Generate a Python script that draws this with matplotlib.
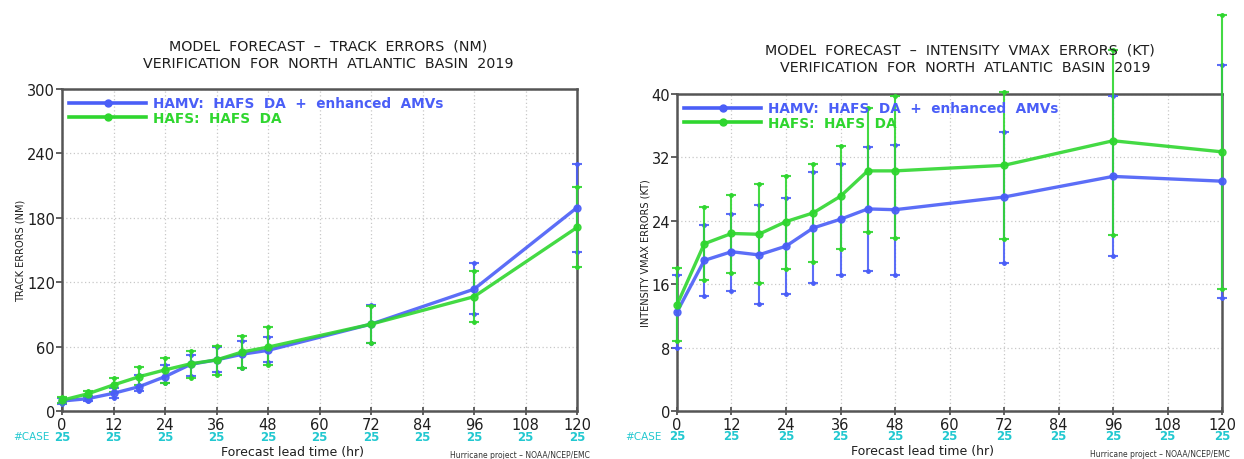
import matplotlib
matplotlib.use("Agg")
import matplotlib.pyplot as plt
from matplotlib.lines import Line2D

# Forecast lead times (hr) and number of verified cases
lead_hours = [0, 6, 12, 18, 24, 30, 36, 42, 48, 72, 96, 120]
case_ticks = [0, 12, 24, 36, 48, 60, 72, 84, 96, 108, 120]
case_counts = [25, 25, 25, 25, 25, 25, 25, 25, 25, 25, 25]

# Track errors (NM): mean, upper and lower bounds
track_hamv = [9.3, 11.5, 16.5, 22.7, 32.0, 43.5, 47.6, 52.9, 56.5, 80.9, 113.5, 189.5]
track_hamv_hi = [12.0, 14.0, 21.8, 33.6, 43.0, 52.0, 60.0, 65.0, 69.4, 99.0, 137.5, 230.0]
track_hamv_lo = [6.5, 9.0, 12.4, 18.7, 25.8, 33.0, 36.7, 40.4, 46.0, 63.0, 90.0, 148.5]
track_hafs = [10.0, 16.0, 24.3, 32.0, 38.3, 44.0, 47.6, 55.0, 59.5, 80.9, 106.5, 171.0]
track_hafs_hi = [13.0, 18.5, 30.5, 41.4, 49.0, 56.0, 61.0, 70.3, 77.8, 98.0, 130.0, 208.5]
track_hafs_lo = [7.0, 13.4, 18.0, 24.3, 25.8, 31.0, 33.6, 40.4, 43.0, 63.0, 83.0, 134.5]

# Intensity (Vmax) errors (kt): mean, upper and lower bounds
vmax_hamv = [12.5, 19.0, 20.1, 19.7, 20.8, 23.1, 24.2, 25.5, 25.4, 27.0, 29.6, 29.0]
vmax_hamv_hi = [17.2, 23.5, 24.9, 26.0, 26.9, 30.1, 31.2, 33.3, 33.6, 35.2, 39.7, 43.7]
vmax_hamv_lo = [7.9, 14.5, 15.2, 13.5, 14.8, 16.1, 17.2, 17.7, 17.2, 18.7, 19.6, 14.3]
vmax_hafs = [13.4, 21.1, 22.4, 22.3, 23.9, 25.0, 27.1, 30.3, 30.3, 31.0, 34.1, 32.7]
vmax_hafs_hi = [18.0, 25.8, 27.2, 28.6, 29.7, 31.2, 33.5, 38.2, 39.8, 40.2, 45.5, 50.0]
vmax_hafs_lo = [8.8, 16.5, 17.4, 16.2, 17.9, 18.8, 20.5, 22.6, 21.8, 21.7, 22.2, 15.4]

label_hamv = "HAMV:  HAFS  DA  +  enhanced  AMVs"
label_hafs = "HAFS:  HAFS  DA"

BLUE = "#4a5ef7"
GREEN = "#2fd62f"
CYAN = "#22c8d0"
SPINE = "#555555"
TEXT = "#1e1e1e"

fig = plt.figure(figsize=(12.44, 4.6), dpi=100)
fig.patch.set_facecolor("white")

ax_trk = fig.add_axes([62 / 1244, 1 - 412 / 460, (577 - 62) / 1244, (412 - 90) / 460])
ax_int = fig.add_axes([677 / 1244, 1 - 412 / 460, (1222 - 677) / 1244, (412 - 95) / 460])


def draw_series(ax, mean, hi, lo, color, label):
    yerr = [[m - l for m, l in zip(mean, lo)], [h - m for h, m in zip(hi, mean)]]
    ebar = ax.errorbar(lead_hours, mean, yerr=yerr, color=color, lw=2.4,
                       marker="o", ms=5, elinewidth=1.5, capsize=3.5,
                       capthick=1.5, clip_on=False, alpha=0.9, zorder=3)
    for artist in ebar.lines[1] + ebar.lines[2]:
        artist.set_clip_on(False)
    # small end markers on the bars
    ax.plot(lead_hours, hi, ls="none", marker="o", ms=2.5, color=color,
            clip_on=False, zorder=3)
    ax.plot(lead_hours, lo, ls="none", marker="o", ms=2.5, color=color,
            clip_on=False, zorder=3)
    return Line2D([], [], color=color, lw=2.6, marker="o", ms=5, label=label)


def style_axes(ax, ymax, ystep, ylabel, xlabel_pos, credit_pos):
    ax.set_xlim(0, 120)
    ax.set_ylim(0, ymax)
    ax.set_xticks(case_ticks)
    ax.set_yticks(range(0, ymax + 1, ystep))
    ax.tick_params(axis="both", labelsize=10.5, length=4, width=1.3,
                   color=SPINE, labelcolor=TEXT, pad=1)
    ax.tick_params(axis="x", direction="inout", length=6)
    ax.grid(True, color="#c8c8c8", ls=(0, (1, 2)), lw=0.9)
    ax.set_axisbelow(True)
    for sp in ax.spines.values():
        sp.set_color(SPINE)
        sp.set_linewidth(1.8)
    ax.set_ylabel(ylabel, fontsize=7, labelpad=1, color=TEXT)
    # case counts under each tick
    for t, n in zip(case_ticks, case_counts):
        ax.text(t, -0.078, str(n), transform=ax.get_xaxis_transform(),
                ha="center", va="center", fontsize=8.5, color=CYAN,
                fontweight="bold")
    ax.text(-0.095, -0.078, "#CASE", transform=ax.transAxes, ha="left",
            va="center", fontsize=7.5, color=CYAN)
    ax.text(xlabel_pos, -0.125, "Forecast lead time (hr)", transform=ax.transAxes,
            ha="center", va="center", fontsize=9, color=TEXT)
    ax.text(credit_pos, -0.135, "Hurricane project \u2013 NOAA/NCEP/EMC",
            transform=ax.transAxes, ha="right", va="center", fontsize=5.5,
            color="#333333")


h1 = draw_series(ax_trk, track_hamv, track_hamv_hi, track_hamv_lo, BLUE, label_hamv)
h2 = draw_series(ax_trk, track_hafs, track_hafs_hi, track_hafs_lo, GREEN, label_hafs)
style_axes(ax_trk, 300, 60, "TRACK ERRORS (NM)", 0.447, 1.025)

g1 = draw_series(ax_int, vmax_hamv, vmax_hamv_hi, vmax_hamv_lo, BLUE, label_hamv)
g2 = draw_series(ax_int, vmax_hafs, vmax_hafs_hi, vmax_hafs_lo, GREEN, label_hafs)
style_axes(ax_int, 40, 8, "INTENSITY VMAX ERRORS (KT)", 0.45, 1.015)

for ax, handles in ((ax_trk, [h1, h2]), (ax_int, [g1, g2])):
    leg = ax.legend(handles=handles, loc="upper left", frameon=False,
                    handlelength=5.6, handletextpad=0.5, labelspacing=0.05,
                    borderaxespad=0.15, labelcolor="linecolor",
                    prop={"weight": "bold", "size": 9.8})
    leg.set_zorder(5)

title_kw = dict(ha="center", va="center", fontsize=10.3, color=TEXT)
fig.text(328 / 1244, 1 - 47 / 460, "MODEL  FORECAST  \u2013  TRACK  ERRORS  (NM)", **title_kw)
fig.text(328 / 1244, 1 - 64 / 460, "VERIFICATION  FOR  NORTH  ATLANTIC  BASIN  2019", **title_kw)
fig.text(960 / 1244, 1 - 51 / 460,
         "MODEL  FORECAST  \u2013  INTENSITY  VMAX  ERRORS  (KT)", **title_kw)
fig.text(965 / 1244, 1 - 68 / 460, "VERIFICATION  FOR  NORTH  ATLANTIC  BASIN  2019", **title_kw)

fig.savefig("out.png", dpi=100, facecolor="white")
